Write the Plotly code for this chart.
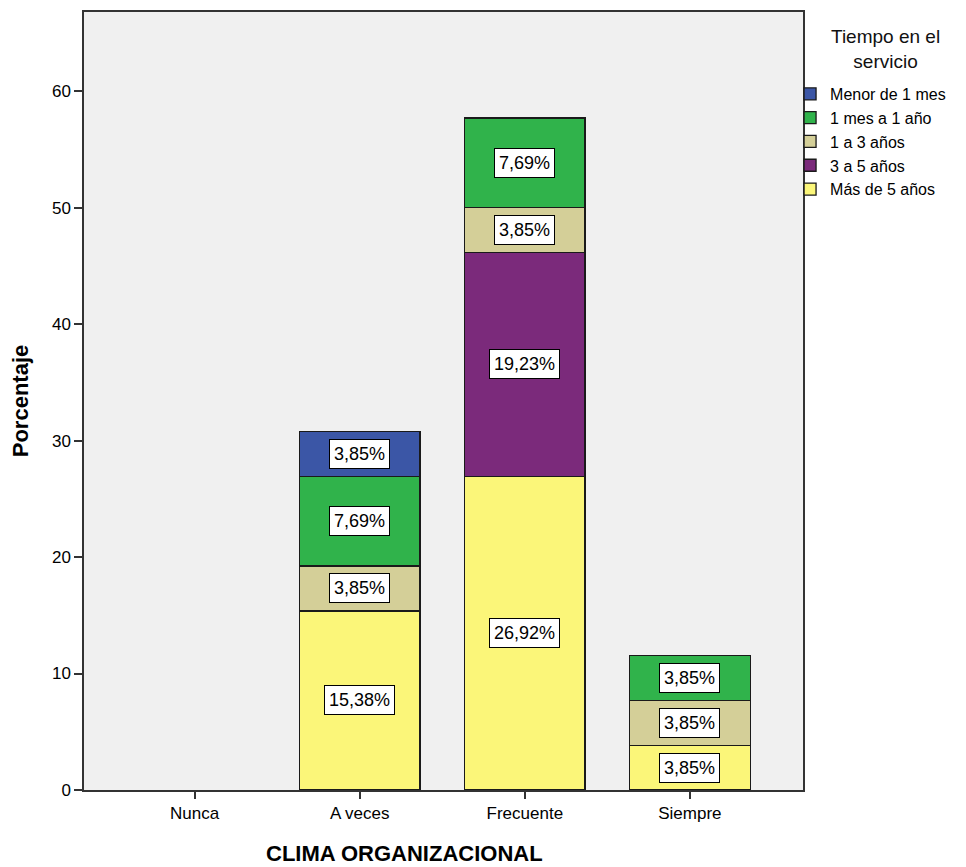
import plotly.graph_objects as go

categories = ["Nunca", "A veces", "Frecuente", "Siempre"]
series_names = ["Más de 5 años", "3 a 5 años", "1 a 3 años", "1 mes a 1 año", "Menor de 1 mes"]
mas_5 = [0, 15.38, 26.92, 3.85]
de_3_5 = [0, 0, 19.23, 0]
de_1_3 = [0, 3.85, 3.85, 3.85]
mes_1_ano = [0, 7.69, 7.69, 3.85]
menor_1 = [0, 3.85, 0, 0]
colors = ["#fbf679", "#7b2a7b", "#d4cf98", "#30b34b", "#3b56a6"]
legend_title = "Tiempo en el<br>servicio"
x_title = "CLIMA ORGANIZACIONAL"

series = [mas_5, de_3_5, de_1_3, mes_1_ano, menor_1]

fig = go.Figure()
for name, vals, col in zip(series_names, series, colors):
    fig.add_trace(go.Bar(
        x=categories, y=[v if v > 0 else None for v in vals], name=name,
        marker=dict(color=col, line=dict(color="#1a1a1a", width=1.3)),
        width=0.73, hoverinfo="skip",
    ))

annotations = []
base = [0.0] * len(categories)
for vals in series:
    for i, v in enumerate(vals):
        if v > 0:
            annotations.append(dict(
                x=categories[i], y=base[i] + v / 2, xref="x", yref="y",
                text=f"{v:.2f}".replace(".", ",") + "%", showarrow=False,
                font=dict(family="Liberation Sans, Arial", size=18, color="black"),
                bgcolor="white", bordercolor="black", borderwidth=1, borderpad=4,
            ))
        base[i] += v

annotations.append(dict(
    x=1.1154, xref="paper", y=0.985, yref="paper", yanchor="top", xanchor="center",
    text=legend_title, showarrow=False, align="center",
    font=dict(family="Liberation Sans, Arial", size=19, color="#111111"),
))
annotations.append(dict(
    x=0.446, xref="paper", y=-0.0822, yref="paper", yanchor="middle", xanchor="center",
    text=f"<b>{x_title}</b>", showarrow=False,
    font=dict(family="Liberation Sans, Arial", size=22, color="black"),
))

fig.update_layout(
    width=950, height=859,
    barmode="stack",
    paper_bgcolor="white", plot_bgcolor="#f0f0f0",
    margin=dict(l=76, r=155, t=4, b=77, autoexpand=False),
    font=dict(family="Liberation Sans, Arial", size=17, color="black"),
    annotations=annotations,
    showlegend=True,
    legend=dict(
        x=0.982, xanchor="left", y=0.9165, yanchor="top",
        traceorder="reversed",
        font=dict(size=16), itemwidth=30,
        tracegroupgap=0, bgcolor="rgba(0,0,0,0)",
    ),
    xaxis=dict(
        range=[-0.67, 3.685], showgrid=False, zeroline=False, automargin=False,
        showline=True, linecolor="#333333", linewidth=1.5, mirror=True,
        ticks="outside", ticklen=7, tickcolor="#333333", tickwidth=1.5,
        tickfont=dict(size=17),
    ),
    yaxis=dict(
        range=[0, 66.8], showgrid=False, zeroline=False, automargin=False,
        tickvals=[0, 10, 20, 30, 40, 50, 60],
        showline=True, linecolor="#333333", linewidth=1.5, mirror=True,
        ticks="outside", ticklen=8, tickcolor="#333333", tickwidth=1.5,
        tickfont=dict(size=17),
        title=dict(text="<b>Porcentaje</b>", font=dict(size=22), standoff=27),
    ),
)

fig.write_html("out.html")
